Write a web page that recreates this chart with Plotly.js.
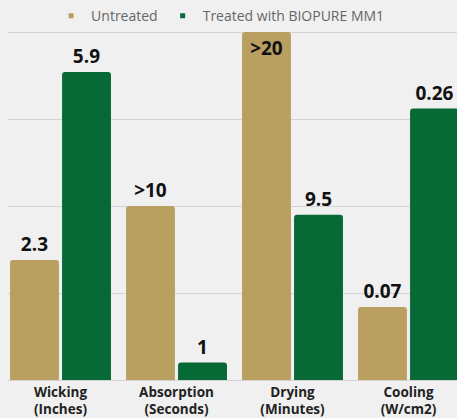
<!DOCTYPE html>
<html>
<head>
<meta charset="utf-8">
<script src="https://cdn.plot.ly/plotly-3.0.1.min.js"></script>
<style>html,body{margin:0;padding:0;background:#f0f0f0;}</style>
</head>
<body>
<div id="chart" style="width:457px;height:418px;"></div>
<script>
// Categories (tick labels)
const categories = ["Wicking<br>(Inches)", "Absorption<br>(Seconds)", "Drying<br>(Minutes)", "Cooling<br>(W/cm2)"];
// Displayed value labels
const untreatedLabels = ["2.3", ">10", ">20", "0.07"];
const treatedLabels = ["5.9", "1", "9.5", "0.26"];
// Plotted bar heights (chart scale)
const untreatedHeights = [6.9, 10, 20, 4.2];
const treatedHeights = [17.7, 1, 9.5, 15.6];
const seriesNames = ["Untreated", "Treated with BIOPURE MM1"];

const tan = "#b9a061";
const green = "#066936";
const labelFont = {family: "Open Sans", size: 19, color: "#111", weight: 700};

const traces = [
  {
    type: "bar", x: categories, y: untreatedHeights, text: untreatedLabels,
    name: seriesNames[0], showlegend: false,
    marker: {color: tan},
    textposition: ["outside", "outside", "inside", "outside"],
    insidetextanchor: "end",
    textfont: labelFont, outsidetextfont: labelFont, insidetextfont: labelFont,
    hoverinfo: "none"
  },
  {
    type: "bar", x: categories, y: treatedHeights, text: treatedLabels,
    name: seriesNames[1], showlegend: false,
    marker: {color: green},
    textposition: "outside",
    textfont: labelFont, outsidetextfont: labelFont,
    hoverinfo: "none"
  },
  {
    type: "scatter", mode: "markers", x: [null], y: [null], name: seriesNames[0],
    marker: {symbol: "square", size: 5, color: tan}, hoverinfo: "none"
  },
  {
    type: "scatter", mode: "markers", x: [null], y: [null], name: seriesNames[1],
    marker: {symbol: "square", size: 5, color: green}, hoverinfo: "none"
  }
];

const layout = {
  width: 457, height: 418,
  paper_bgcolor: "#f0f0f0", plot_bgcolor: "#f0f0f0",
  margin: {l: 8, r: 0, t: 28, b: 38},
  barmode: "group", bargap: 0.103, bargroupgap: 0.06, barcornerradius: 3,
  showlegend: true,
  legend: {orientation: "h", x: 0.096, xanchor: "left", y: 1.0426, yanchor: "middle",
           font: {family: "Open Sans", size: 14, color: "#666"}, bgcolor: "rgba(0,0,0,0)"},
  xaxis: {
    type: "category", range: [-0.4526, 3.418], fixedrange: true,
    showgrid: false, showline: false, zeroline: false, ticks: "",
    ticklabelstandoff: 2,
    tickfont: {family: "Open Sans", size: 13.5, color: "#222", weight: 700}
  },
  yaxis: {
    range: [0, 20.06], tickvals: [0, 5, 10, 15, 20], showticklabels: false, ticks: "",
    showgrid: true, gridcolor: "#d4d4d4", gridwidth: 1,
    zeroline: true, zerolinecolor: "#d4d4d4", zerolinewidth: 1, fixedrange: true
  }
};

Plotly.newPlot("chart", traces, layout, {displayModeBar: false, staticPlot: true});
</script>
</body>
</html>
